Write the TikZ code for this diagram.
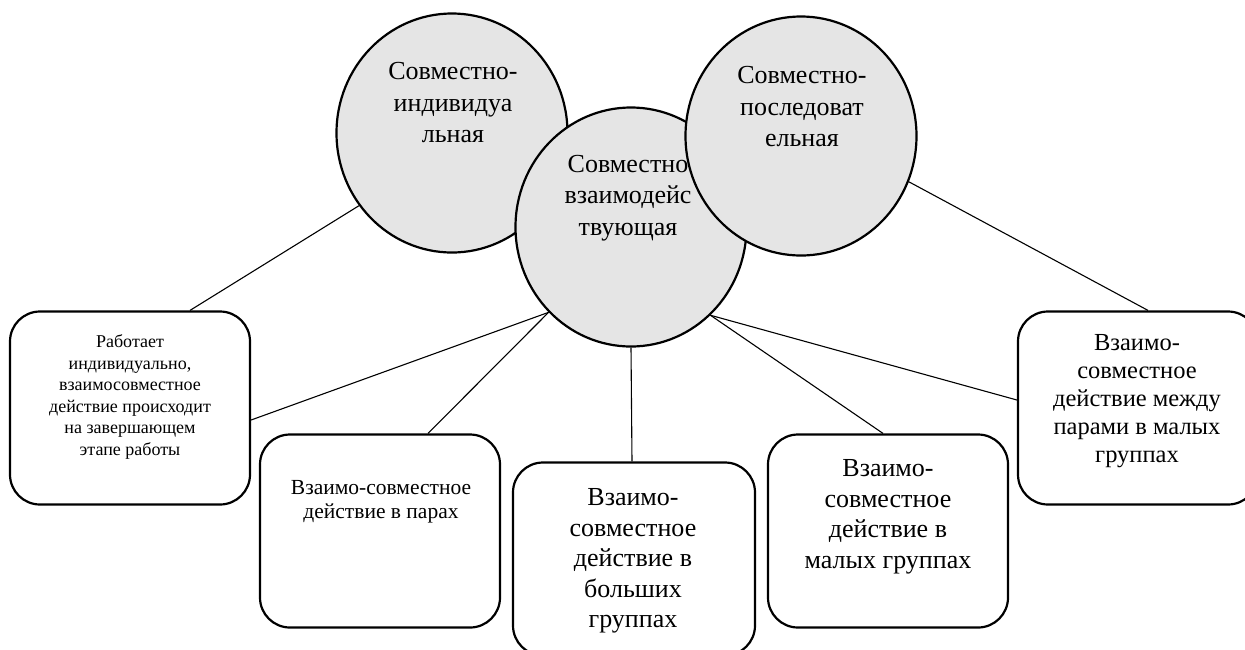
\documentclass[tikz,border=0pt]{standalone}
\usepackage{fontspec}
\setmainfont{Liberation Serif}
\usetikzlibrary{shapes.geometric}

\begin{document}
\begin{tikzpicture}[
  x=1pt, y=-1pt,
  ring/.style={
    ellipse, minimum width=231pt, minimum height=239pt, inner sep=0pt,
    draw=black, line width=2.2pt, fill=gray!20
  },
  ringtext/.style={align=center, font=\fontsize{26}{31.5}\selectfont},
  card/.style={
    rectangle, rounded corners=30pt, minimum width=240pt, minimum height=193pt,
    draw=black, line width=2.2pt, fill=white
  },
  cardtext/.style={align=center},
  link/.style={line width=1.1pt, black}
]
\useasboundingbox (0,0) rectangle (1245,649);

% === Boxes ===
\node[card] (work) at (130,408) {};
\node[card] (pairs) at (380,531) {};
\node[card, minimum width=242pt] (large) at (634,559) {};
\node[card] (small) at (888,531) {};
\node[card] (mixed) at (1138,408) {};

% === Box texts ===
\node[cardtext, font=\fontsize{18}{21.6}\selectfont] (worktxt) at (130,397)
  {Работает\\индивидуально,\\взаимосовместное\\действие происходит\\на завершающем\\этапе работы};
\node[cardtext, font=\fontsize{21.5}{24}\selectfont] (pairstxt) at (381,502)
  {Взаимо-совместное\\действие в парах};
\node[cardtext, font=\fontsize{26}{30.5}\selectfont] (largetxt) at (633,561)
  {Взаимо-\\совместное\\действие в\\больших\\группах};
\node[cardtext, font=\fontsize{26}{30.5}\selectfont] (smalltxt) at (888,517)
  {Взаимо-\\совместное\\действие в\\малых группах};
\node[cardtext, font=\fontsize{24.5}{28}\selectfont] (mixedtxt) at (1137,401)
  {Взаимо-\\совместное\\действие между\\парами в малых\\группах};

% === Circles ===
\node[ring] (indiv) at (452,133) {};
\node[ringtext] (indivtxt) at (453,103) {Совместно-\\индивидуа\\льная};
\node[ring] (joint) at (631,227) {};
\node[ringtext] (jointtxt) at (628,198) {Совместно\\взаимодейс\\твующая};
\node[ring] (seq) at (801,136) {};
\node[ringtext] (seqtxt) at (802,107) {Совместно-\\последоват\\ельная};

% === Connectors ===
\draw[link] (indiv.218) -- ([xshift=60pt]work.north);
\draw[link] (joint.226) -- ([yshift=-12pt]work.east);
\draw[link] (joint.226) -- ([xshift=48pt]pairs.north);
\draw[link] (joint.south) -- ([xshift=-2pt]large.north);
\draw[link] (joint.312) -- ([xshift=-5pt]small.north);
\draw[link] (joint.312) -- ([yshift=8pt]mixed.west);
\draw[link] (seq.337) -- ([xshift=10pt]mixed.north);

\end{tikzpicture}
\end{document}
